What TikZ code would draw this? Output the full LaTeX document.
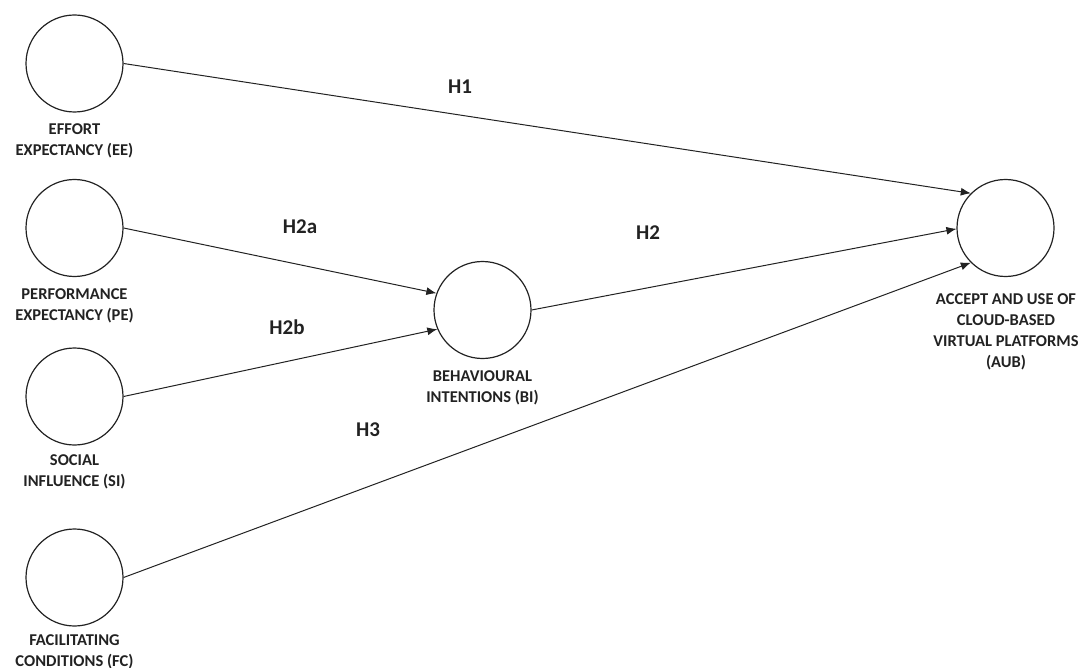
\documentclass[tikz,border=0pt]{standalone}
\usepackage{fontspec}
\setmainfont{Carlito}
\usetikzlibrary{arrows.meta}
\definecolor{ink}{HTML}{222222}
\tikzset{
  construct/.style={circle,draw=ink,line width=1.2pt,minimum size=97pt,inner sep=0pt},
  lbl/.style={anchor=north,inner sep=0pt,align=center,font=\fontsize{16.5}{21}\selectfont\bfseries,text=ink},
  hyp/.style={inner sep=0pt,font=\fontsize{21}{24}\selectfont\bfseries,text=ink},
  path/.style={draw=ink,line width=1pt,-{Latex[length=10pt,width=8pt]}}
}
\begin{document}
\begin{tikzpicture}[x=1pt,y=-1pt]
\useasboundingbox (0,0) rectangle (1083,668);
\node[construct] (EE) at (74.5,63.5) {};
\node[construct] (PE) at (74.5,228) {};
\node[construct] (SI) at (74.5,396.5) {};
\node[construct] (FC) at (74.5,577.5) {};
\node[construct] (BI) at (482.5,310) {};
\node[construct] (AUB) at (1005.5,228) {};

\node[lbl] (EEl) at (74.5,123) {EFFORT\\EXPECTANCY (EE)};
\node[lbl] (PEl) at (74.5,288) {PERFORMANCE\\EXPECTANCY (PE)};
\node[lbl] (SIl) at (74.5,454) {SOCIAL\\INFLUENCE (SI)};
\node[lbl] (FCl) at (74.5,634) {FACILITATING\\CONDITIONS (FC)};
\node[lbl] (BIl) at (482.5,370) {BEHAVIOURAL\\INTENTIONS (BI)};
\node[lbl] (AUBl) at (1006,293) {ACCEPT AND USE OF\\CLOUD-BASED\\VIRTUAL PLATFORMS\\(AUB)};

\draw[path] (EE.east) -- (AUB.135);
\draw[path] (PE.east) -- (BI.160);
\draw[path] (SI.east) -- (BI.203);
\draw[path] (BI.east) -- (AUB.181);
\draw[path] (FC.east) -- (AUB.225);

\node[hyp] (H1) at (460,87) {H1};
\node[hyp] (H2a) at (300,227) {H2a};
\node[hyp] (H2b) at (287,327) {H2b};
\node[hyp] (H2) at (648,233) {H2};
\node[hyp] (H3) at (368,430) {H3};
\end{tikzpicture}
\end{document}
